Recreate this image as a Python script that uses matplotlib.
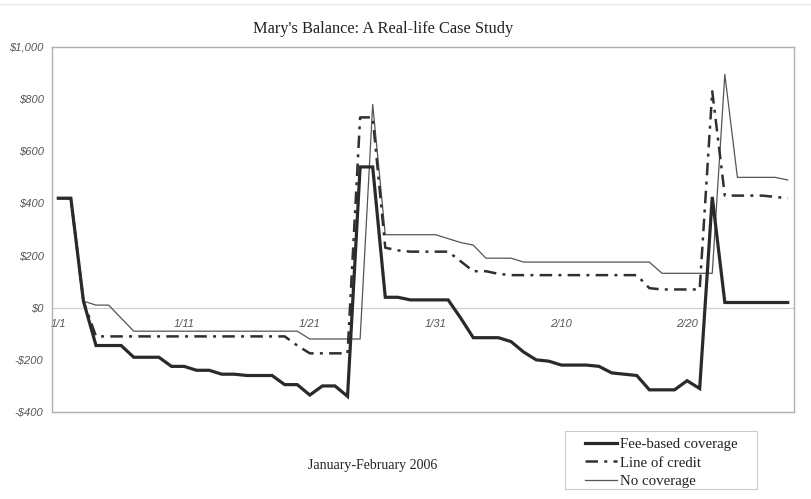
import matplotlib
matplotlib.use("Agg")
import matplotlib.pyplot as plt
from matplotlib.lines import Line2D
from matplotlib.patches import Rectangle

# ---- data ----
dates = ["1/1", "1/11", "1/21", "1/31", "2/10", "2/20"]
label_idx = [0, 10, 20, 30, 40, 50]

fee_based = [420, 420, 25, -145, -145, -145, -190, -190, -190, -225, -225, -240, -240, -255, -255,
             -260, -260, -260, -295, -295, -335, -300, -300, -340, 540, 540, 40, 40, 30, 30,
             30, 30, -40, -115, -115, -115, -130, -170, -200, -205, -220, -220, -220, -225, -250,
             -255, -260, -315, -315, -315, -280, -310, 425, 20, 20, 20, 20, 20, 20]
line_credit = [420, 420, 25, -110, -110, -110, -110, -110, -110, -110, -110, -110, -110, -110, -110,
               -110, -110, -110, -110, -145, -175, -175, -175, -175, 730, 730, 230, 220, 215, 215,
               215, 215, 178, 140, 140, 130, 125, 125, 125, 125, 125, 125, 125, 125, 125,
               125, 125, 75, 70, 70, 70, 70, 830, 430, 430, 430, 430, 425, 420]
no_coverage = [420, 420, 25, 10, 10, -40, -90, -90, -90, -90, -90, -90, -90, -90, -90,
               -90, -90, -90, -90, -90, -120, -120, -120, -120, -120, 780, 280, 280, 280, 280,
               280, 265, 250, 240, 190, 190, 190, 175, 175, 175, 175, 175, 175, 175, 175,
               175, 175, 175, 132, 132, 132, 132, 132, 895, 500, 500, 500, 500, 490]
series_names = ["Fee-based coverage", "Line of credit", "No coverage"]
yticks = [-400, -200, 0, 200, 400, 600, 800, 1000]
ytick_labels = ["-$400", "-$200", "$0", "$200", "$400", "$600", "$800", "$1,000"]

x = list(range(len(fee_based)))

W, H = 811, 499
fig = plt.figure(figsize=(W / 100, H / 100), dpi=100)
ax = fig.add_axes([52 / W, 1 - 412 / H, (794 - 52) / W, (412 - 47) / H])

serif = ["Liberation Serif", "DejaVu Serif"]
sans = ["Liberation Sans", "DejaVu Sans"]

ax.axhline(0, color="#d0d0d0", lw=0.9, zorder=1)
l1, = ax.plot(x, fee_based, color="#2a2a2a", lw=2.3, solid_joinstyle="miter", zorder=4)
l2, = ax.plot(x, line_credit, color="#303030", lw=1.8, linestyle=(0, (5, 2.5, 1.2, 2.5)), zorder=3)
l3, = ax.plot(x, no_coverage, color="#555555", lw=0.9, zorder=2)

ax.set_xlim(-0.5, len(x) - 0.5)
ax.set_ylim(-400, 1000)
ax.set_xticks([])
ax.set_yticks(yticks)
ax.set_yticklabels(ytick_labels, fontstyle="italic", family=sans, fontsize=8, color="#555555")
ax.tick_params(axis="y", length=0, pad=6)
for s in ax.spines.values():
    s.set_color("#b0b0b0")
    s.set_linewidth(1.0)

sec = ax.secondary_xaxis(400 / 1400)
sec.set_xticks(label_idx)
sec.set_xticklabels(dates, fontstyle="italic", family=sans, fontsize=8, color="#555555")
sec.tick_params(axis="x", length=0, pad=8)
sec.spines["bottom"].set_visible(False)

fig.text(383 / W, 1 - 29 / H, "Mary's Balance: A Real-life Case Study", ha="center", va="center",
         family=serif, fontsize=11.8, color="#222222")
fig.text(373 / W, 1 - 465 / H, "January-February 2006", ha="center", va="center",
         family=serif, fontsize=10, color="#222222")

fig.add_artist(Line2D([0, 1], [1 - 4 / H, 1 - 4 / H], color="#e6e6e6", lw=0.8))

# legend frame + legend content centred inside it
bx0, bx1, by0, by1 = 565, 757, 431, 489
fig.add_artist(Rectangle((bx0 / W, 1 - by1 / H), (bx1 - bx0) / W, (by1 - by0) / H,
                         transform=fig.transFigure, fill=False, edgecolor="#cccccc", lw=0.8))
leg = fig.legend([l1, l2, l3], series_names, loc="center",
                 bbox_to_anchor=((bx0 + bx1) / 2 / W, 1 - (by0 + by1) / 2 / H - 0.006),
                 prop={"family": serif, "size": 10.7}, frameon=False,
                 handlelength=2.15, handletextpad=0.2, labelspacing=0.34, borderpad=0,
                 borderaxespad=0)
for t in leg.get_texts():
    t.set_color("#222222")

fig.savefig("out.png", dpi=100)
